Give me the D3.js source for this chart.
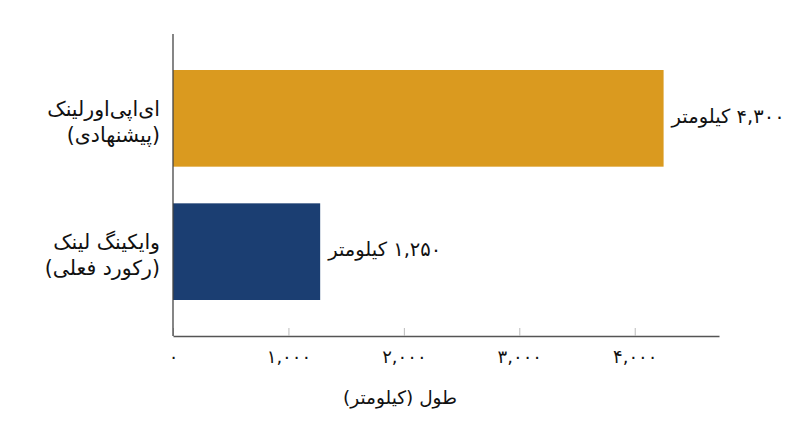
<!DOCTYPE html>
<html><head><meta charset="utf-8">
<script src="https://cdn.jsdelivr.net/npm/d3@7/dist/d3.min.js"></script>
<style>body{margin:0;background:#fff}svg{display:block}text{font-family:"DejaVu Sans",sans-serif;fill:#111}</style>
</head><body><svg id="c" width="800" height="447"></svg>
<script>
const categoryLine1 = ["ای‌اپی‌اورلینک", "وایکینگ لینک"];
const categoryLine2 = ["(پیشنهادی)", "(رکورد فعلی)"];
const barValues = [4250, 1275];
const valueLabels = ["۴,۳۰۰ کیلومتر", "۱,۲۵۰ کیلومتر"];
const barColors = ["#DA9A1F", "#1B3E72"];
const tickValues = [0, 1000, 2000, 3000, 4000];
const tickLabels = ["۰", "۱,۰۰۰", "۲,۰۰۰", "۳,۰۰۰", "۴,۰۰۰"];
const axisTitle = "طول (کیلومتر)";
const xMax = 4730;

(function(){
const svg = d3.select("#c");
const mL = 173, mR = 719, mT = 34, mB = 336;
const x = d3.scaleLinear().domain([0, xMax]).range([mL, mR]);
const y = d3.scaleBand().domain(d3.range(barValues.length)).range([mT, mB]).paddingInner(0.275).paddingOuter(0.27);

svg.selectAll("rect.bar").data(barValues).join("rect").attr("class","bar")
  .attr("x", x(0)).attr("y", (d,i)=>y(i)).attr("width", d=>x(d)-x(0)).attr("height", y.bandwidth())
  .attr("fill", (d,i)=>barColors[i]);

const xAxis = d3.axisBottom(x).tickValues(tickValues).tickSizeInner(-8).tickSizeOuter(0).tickPadding(0)
  .tickFormat((d,i)=>tickLabels[i]);
const gx = svg.append("g").attr("transform", `translate(0,${mB})`).call(xAxis);
gx.select(".domain").attr("stroke", "#555").attr("stroke-width", 1.3);
gx.selectAll(".tick line").attr("stroke", "#bbb");
gx.selectAll(".tick text").attr("y", 21).attr("dy", "0.35em").attr("font-size", 18).attr("fill","#111")
  .attr("font-family", "DejaVu Sans, sans-serif");

svg.append("line").attr("x1", mL).attr("x2", mL).attr("y1", mT).attr("y2", mB)
  .attr("stroke", "#444").attr("stroke-width", 1.3);

svg.append("text").attr("x", 400).attr("y", 398).attr("dy","0.35em").attr("text-anchor","middle")
  .attr("font-size", 18.5).style("direction","rtl").style("unicode-bidi","embed").text(axisTitle);

const lab = svg.selectAll("g.cat").data(barValues).join("g").attr("class","cat");
lab.append("text").attr("x", 160).attr("y", (d,i)=>y(i)+y.bandwidth()/2 - 10).attr("dy","0.35em")
  .attr("text-anchor","start").style("direction","rtl").style("unicode-bidi","embed")
  .attr("font-size", 20.5).text((d,i)=>categoryLine1[i]);
lab.append("text").attr("x", 160).attr("y", (d,i)=>y(i)+y.bandwidth()/2 + 16).attr("dy","0.35em")
  .attr("text-anchor","start").style("direction","rtl").style("unicode-bidi","embed")
  .attr("font-size", 20.5).text((d,i)=>categoryLine2[i]);

svg.selectAll("text.val").data(barValues).join("text").attr("class","val")
  .attr("x", d=>x(d)+8).attr("y", (d,i)=>y(i)+y.bandwidth()/2 - 2).attr("dy","0.35em")
  .attr("text-anchor","end").style("direction","rtl").style("unicode-bidi","embed")
  .attr("font-size", 19.5).text((d,i)=>valueLabels[i]);
})();
</script></body></html>
